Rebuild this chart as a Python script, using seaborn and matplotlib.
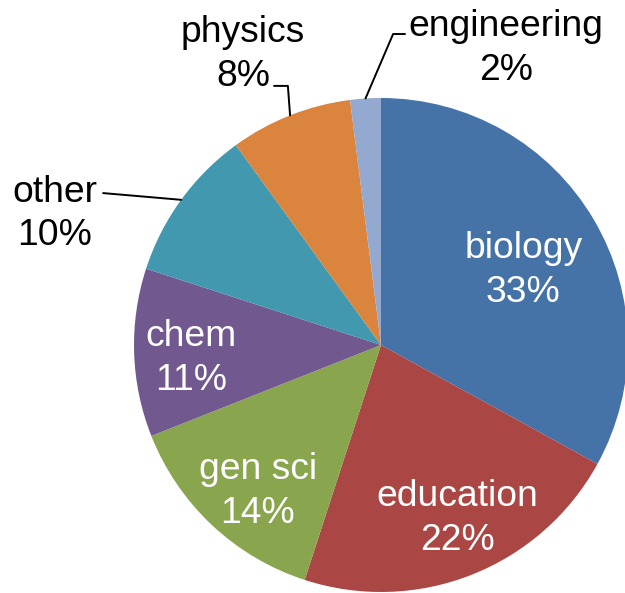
import numpy as np
import matplotlib
matplotlib.use("Agg")
import matplotlib.pyplot as plt
import seaborn as sns

sns.set_theme(style="white")
plt.rcParams['font.family'] = ['Liberation Sans', 'DejaVu Sans']

# data
fields = ['biology', 'education', 'gen sci', 'chem', 'other', 'physics', 'engineering']
shares = [33, 22, 14, 11, 10, 8, 2]
colors = ['#4572A7', '#AA4643', '#89A54E', '#71588F', '#4198AF', '#DB843D', '#93A9CF']

# labels drawn inside the slice: (radius, angle in degrees)
inside_pos = {'biology': (0.655, 28.5), 'education': (0.757, -66.0),
              'gen sci': (0.767, -130.5), 'chem': (0.77, 183.3)}
# outside label text position and elbow points of the leader line (axes data units)
outside_text = {'other': (-1.32, 0.53), 'physics': (-0.559, 1.175), 'engineering': (0.506, 1.20)}
outside_elbow = {'other': [(-1.125, 0.615)],
                 'physics': [(-0.377, 1.049), (-0.433, 1.049)],
                 'engineering': [(0.049, 1.259), (0.097, 1.259)]}

fig = plt.figure(figsize=(6.25, 5.93), dpi=100)
ax = fig.add_axes([134 / 625, 1 / 593, 494 / 625, 494 / 593])
wedges, _ = ax.pie(shares, colors=colors, startangle=90, counterclock=False,
                   radius=1, wedgeprops=dict(linewidth=0))
ax.set_xlim(-1, 1)
ax.set_ylim(-1, 1)
ax.set_aspect('equal')
ax.axis('off')

fs = 26.8
for w, name, val in zip(wedges, fields, shares):
    mid = np.deg2rad((w.theta1 + w.theta2) / 2)
    label = f"{name}\n{val}%"
    if name in inside_pos:
        r, ang = inside_pos[name]
        ang = np.deg2rad(ang)
        ax.text(r * np.cos(ang), r * np.sin(ang) - 0.01, label, ha='center', va='center',
                color='white', fontsize=fs, linespacing=1.32)
    else:
        edge = (np.cos(mid), np.sin(mid))
        pts = [edge] + outside_elbow[name]
        xs, ys = zip(*pts)
        ax.plot(xs, ys, color='black', lw=1.4, clip_on=False)
        tx, ty = outside_text[name]
        ax.text(tx, ty, label, ha='center', va='center', color='black',
                fontsize=fs, linespacing=1.32)

fig.savefig('out.png', dpi=100)
